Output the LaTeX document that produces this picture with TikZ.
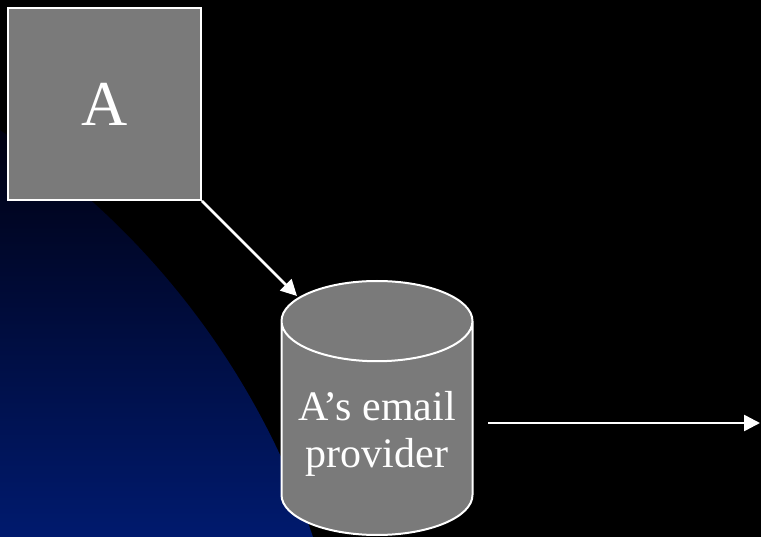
\documentclass[tikz,border=0pt]{standalone}
\usepackage{fontspec}
\setmainfont{Liberation Serif}
\usetikzlibrary{shapes.geometric,arrows.meta}
\definecolor{slidegray}{RGB}{122,122,122}
\definecolor{globetop}{RGB}{0,0,16}
\definecolor{globebottom}{RGB}{0,26,110}

\begin{document}
\begin{tikzpicture}[x=1pt,y=-1pt,
    box/.style={draw=white, line width=2pt, fill=slidegray, text=white},
    link/.style={draw=white, line width=2.5pt, -{Triangle[length=16pt,width=16pt]}}]
    \useasboundingbox (0,0) rectangle (761,537);
    \fill[black] (0,0) rectangle (761,537);

    % Globe
    \begin{scope}
        \clip (-436,789) circle[radius=790];
        \shade[top color=globetop, bottom color=globebottom] (0,125) rectangle (761,537);
    \end{scope}

    % Sender
    \node[box, minimum width=193pt, minimum height=192pt, inner sep=0pt, font=\fontsize{64}{70}\selectfont] (sender) at (104.5,104) {A};

    % Email provider
    \node[box, cylinder, shape border rotate=90, aspect=0.42, inner xsep=95.5pt, inner ysep=0pt, minimum width=191pt, minimum height=254pt, anchor=shape center] (provider) at (377,408) {};
    \node[text=white, inner sep=0pt, align=center, font=\fontsize{42}{47}\selectfont] (providerlabel) at (377,433.5) {A's email\\provider};

    \coordinate (inlet) at (297,296);
    \coordinate (outstart) at (488,423);
    \coordinate (outend) at (760,423);

    \draw[link] (sender.south east) -- (inlet);
    \draw[link] (outstart) -- (outend);
\end{tikzpicture}
\end{document}
